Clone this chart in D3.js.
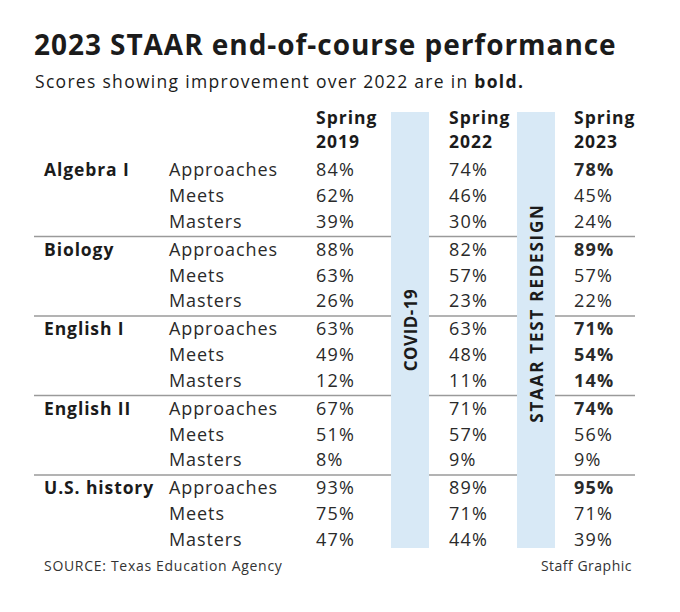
<!DOCTYPE html>
<html>
<head>
<meta charset="utf-8">
<script src="https://cdn.jsdelivr.net/npm/d3@7"></script>
<style>
  body { margin: 0; background: #fff; }
  text { font-family: "Open Sans", "DejaVu Sans", sans-serif; }
</style>
</head>
<body>
<svg id="chart" width="680" height="612"></svg>
<script>
// data
const subjects = ["Algebra I", "Biology", "English I", "English II", "U.S. history"];
const levels = ["Approaches", "Meets", "Masters"];
const years = ["2019", "2022", "2023"];
const spring2019 = [[84, 62, 39], [88, 63, 26], [63, 49, 12], [67, 51, 8], [93, 75, 47]];
const spring2022 = [[74, 46, 30], [82, 57, 23], [63, 48, 11], [71, 57, 9], [89, 71, 44]];
const spring2023 = [[78, 45, 24], [89, 57, 22], [71, 54, 14], [74, 56, 9], [95, 71, 39]];
const breaks = [
  {label: "COVID-19", after: "2019"},
  {label: "STAAR TEST REDESIGN", after: "2022"}
];

const svg = d3.select("#chart");
const dark = "#1b1b1b";

// title + subtitle
svg.append("text")
  .attr("x", 34).attr("y", 55)
  .attr("font-size", 28).attr("font-weight", 700)
  .attr("letter-spacing", 0.95)
  .attr("fill", dark)
  .text("2023 STAAR end-of-course performance");

const sub = svg.append("text")
  .attr("x", 35).attr("y", 88)
  .attr("font-size", 17.5)
  .attr("letter-spacing", 1.3)
  .attr("fill", dark);
sub.append("tspan").text("Scores showing improvement over 2022 are in ");
sub.append("tspan").attr("font-weight", 700).text("bold.");

// scales
const y = d3.scaleBand().domain(subjects).range([156, 553.5]);
const yLevel = d3.scaleBand().domain(levels).range([0, y.bandwidth()]).paddingOuter(0.05);
const x = d3.scaleOrdinal().domain(years).range([316, 449, 574]);
const xBreak = d3.scaleOrdinal().domain(["2019", "2022"]).range([391, 517]);
const bandW = 38;

// separator lines between subjects
svg.append("g").selectAll("line")
  .data(subjects.slice(1))
  .join("line")
  .attr("x1", 34).attr("x2", 635)
  .attr("y1", d => y(d) + 1).attr("y2", d => y(d) + 1)
  .attr("stroke", "#9a9a9a").attr("stroke-width", 1.5);

// blue break bands
const bandG = svg.append("g").selectAll("g")
  .data(breaks)
  .join("g");
bandG.append("rect")
  .attr("x", d => xBreak(d.after))
  .attr("y", 112)
  .attr("width", bandW)
  .attr("height", 436)
  .attr("fill", "#d8e9f6");

// column headers
const head = svg.append("g").selectAll("text")
  .data(years)
  .join("text")
  .attr("x", d => x(d))
  .attr("font-size", 17.5).attr("font-weight", 700)
  .attr("letter-spacing", 1)
  .attr("fill", dark);
head.append("tspan").attr("x", d => x(d)).attr("y", 124).text("Spring");
head.append("tspan").attr("x", d => x(d)).attr("y", 148).text(d => d);

// rows
const rows = [];
subjects.forEach((s, i) => {
  levels.forEach((l, j) => {
    rows.push({
      subject: s, level: l, first: j === 0,
      v: [spring2019[i][j], spring2022[i][j], spring2023[i][j]],
      better: spring2023[i][j] > spring2022[i][j]
    });
  });
});
const rowY = d => y(d.subject) + yLevel(d.level) + yLevel.bandwidth() / 2;

const rowG = svg.append("g").selectAll("g")
  .data(rows)
  .join("g")
  .attr("transform", d => `translate(0,${rowY(d)})`);

rowG.filter(d => d.first).append("text")
  .attr("x", 44).attr("dy", "0.35em")
  .attr("font-size", 17.5).attr("font-weight", 700)
  .attr("letter-spacing", 0.9)
  .attr("fill", dark)
  .text(d => d.subject);

rowG.append("text")
  .attr("x", 169).attr("dy", "0.35em")
  .attr("font-size", 18)
  .attr("letter-spacing", 0.9)
  .attr("fill", "#2a2a2a")
  .text(d => d.level);

years.forEach((yr, k) => {
  rowG.append("text")
    .attr("x", x(yr)).attr("dy", "0.35em")
    .attr("font-size", 18)
    .attr("letter-spacing", 1.2)
    .attr("font-weight", d => (k === 2 && d.better) ? 700 : 400)
    .attr("fill", "#2a2a2a")
    .text(d => d.v[k] + "%");
});

// rotated band labels
bandG.append("text")
  .attr("transform", (d, i) => `translate(${xBreak(d.after) + bandW / 2 + 1},${i === 0 ? 330 : 313}) rotate(-90)`)
  .attr("text-anchor", "middle").attr("dy", "0.35em")
  .attr("font-size", 17).attr("font-weight", 700)
  .attr("letter-spacing", (d, i) => i === 0 ? 0.5 : 1.8)
  .attr("fill", dark)
  .text(d => d.label);

// footer
svg.append("text")
  .attr("x", 44).attr("y", 571)
  .attr("font-size", 14).attr("letter-spacing", 0.7).attr("fill", "#333")
  .text("SOURCE: Texas Education Agency");
svg.append("text")
  .attr("x", 632).attr("y", 571)
  .attr("text-anchor", "end")
  .attr("font-size", 14).attr("letter-spacing", 0.5).attr("fill", "#333")
  .text("Staff Graphic");
</script>
</body>
</html>
